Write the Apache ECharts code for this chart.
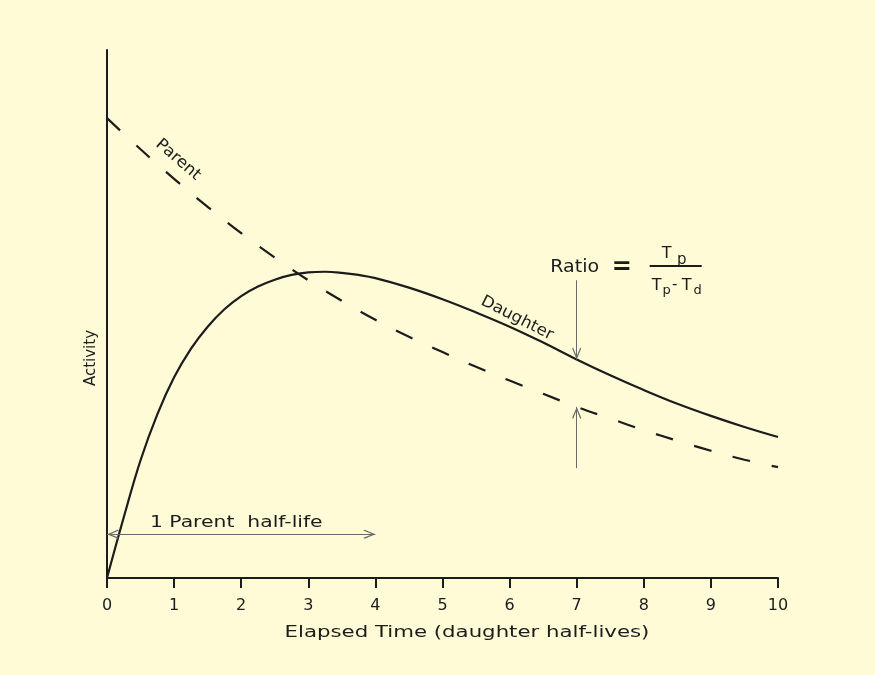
<!DOCTYPE html>
<html>
<head>
<meta charset="utf-8">
<script src="https://cdn.jsdelivr.net/npm/echarts@6/dist/echarts.min.js"></script>
<style>
  html, body { margin: 0; padding: 0; background: #FEFBD6; }
  #chart { width: 875px; height: 675px; }
</style>
</head>
<body>
<div id="chart"></div>
<script>
// ---- data (x in daughter half-lives, y = relative activity 0..100) ----
var xTicks = [0, 1, 2, 3, 4, 5, 6, 7, 8, 9, 10];
var daughterX = [0, 0.25, 0.5, 0.75, 1, 1.25, 1.5, 1.75, 2, 2.25, 2.5, 2.75, 3, 3.25, 3.5, 3.75, 4, 4.5, 5, 5.5, 6, 6.5, 7, 7.5, 8, 8.5, 9, 9.5, 10];
var daughterY = [0, 11.5, 22.3, 31.0, 38.0, 43.4, 47.6, 50.9, 53.4, 55.2, 56.5, 57.4, 57.9, 58.0, 57.8, 57.4, 56.8, 55.0, 52.8, 50.3, 47.6, 44.6, 41.4, 38.4, 35.6, 33.0, 30.7, 28.6, 26.7];
var parentX = [0, 0.5, 1, 1.5, 2, 2.5, 3, 3.5, 4, 4.5, 5, 5.5, 6, 6.5, 7, 7.5, 8, 8.5, 9, 9.5, 10];
var parentY = [87.1, 81.2, 75.6, 70.3, 65.3, 60.7, 56.4, 52.5, 48.9, 45.7, 42.8, 40.0, 37.4, 34.9, 32.4, 30.2, 28.0, 26.0, 24.1, 22.4, 21.0];
// annotation arrows (data coordinates)
var halfLifeArrow = [[0, 8.3], [4, 8.3]];
var ratioArrowTop = [[7, 56.4], [7, 41.4]];
var ratioArrowBottom = [[7, 20.8], [7, 32.4]];
// annotation anchors (data coordinates)
var parentLabelAt = [1.06, 79.2];
var daughterLabelAt = [6.11, 49.2];
var halfLifeLabelAt = [0.64, 10.4];
var ratioLabelAt = [7, 58.7];

function zip(xs, ys) { return xs.map(function (x, i) { return [x, ys[i]]; }); }

var FONT = 'DejaVu Sans';
var INK = '#1c1c1c';
var chevron = 'path://M5,0 L10,9 L9,10 L5,2.6 L1,10 L0,9 Z';

var chart = echarts.init(document.getElementById('chart'), null, { renderer: 'canvas' });

function arrowLine(pair) {
  return [{ coord: pair[0] }, { coord: pair[1] }];
}

var option = {
  backgroundColor: '#FEFBD6',
  animation: false,
  grid: { left: 107, right: 97, top: 50, bottom: 97 },
  xAxis: {
    type: 'value', min: 0, max: 10, interval: 1,
    axisLine: { show: true, onZero: false, lineStyle: { color: INK, width: 2 } },
    axisTick: { show: true, length: 10, lineStyle: { color: INK, width: 2 } },
    axisLabel: { color: INK, fontFamily: FONT, fontSize: 16, margin: 20,
      formatter: function (v) { return xTicks.indexOf(v) >= 0 ? String(v) : ''; } },
    splitLine: { show: false }
  },
  yAxis: {
    type: 'value', min: 0, max: 100,
    axisLine: { show: true, lineStyle: { color: INK, width: 2 } },
    axisTick: { show: false },
    axisLabel: { show: false },
    splitLine: { show: false }
  },
  series: [
    {
      name: 'Daughter', type: 'line', data: zip(daughterX, daughterY),
      smooth: 0.4, showSymbol: false, silent: true,
      lineStyle: { color: INK, width: 2.2 },
      markLine: {
        silent: true, symbol: [chevron, chevron], symbolSize: [9, 12],
        symbolOffset: [[0, 6], [0, 6]],
        label: { show: false },
        lineStyle: { color: '#6a6a6a', width: 1, type: 'solid' },
        data: [arrowLine(halfLifeArrow)]
      }
    },
    {
      name: 'Parent', type: 'line', data: zip(parentX, parentY),
      smooth: 0.4, showSymbol: false, silent: true,
      lineStyle: { color: INK, width: 2.2, type: [18, 22] },
      markLine: {
        silent: true, symbol: ['none', chevron], symbolSize: [9, 12],
        symbolOffset: [[0, 0], [0, 6]],
        label: { show: false },
        lineStyle: { color: '#6a6a6a', width: 1, type: 'solid' },
        data: [arrowLine(ratioArrowTop), arrowLine(ratioArrowBottom)]
      }
    }
  ]
};
chart.setOption(option);

function px(p) { return chart.convertToPixel({ gridIndex: 0 }, p); }
function txt(x, y, s, size, extra, weight) {
  var st = { text: s, x: 0, y: 0, fill: INK, fontFamily: FONT, fontSize: size,
    fontWeight: weight || 'normal', align: 'center', verticalAlign: 'middle' };
  var el = { type: 'text', x: x, y: y, style: st, silent: true };
  if (extra) { for (var k in extra) { el[k] = extra[k]; } }
  return el;
}

var pP = px(parentLabelAt), pD = px(daughterLabelAt), pH = px(halfLifeLabelAt), pR = px(ratioLabelAt);
var hl = txt(pH[0], pH[1], '1 Parent  half-life', 16, { scaleX: 1.27 });
hl.style.align = 'left';

var graphics = [
  txt(pP[0], pP[1], 'Parent', 16, { rotation: -41 * Math.PI / 180, scaleX: 1.05 }),
  txt(pD[0], pD[1], 'Daughter', 16, { rotation: -27 * Math.PI / 180, scaleX: 1.05 }),
  hl,
  txt(467, 633, 'Elapsed Time (daughter half-lives)', 16, { scaleX: 1.33 }),
  txt(91, 358, 'Activity', 15, { rotation: Math.PI / 2 }),
  {
    type: 'group', x: pR[0], y: pR[1], silent: true,
    children: [
      txt(-2, 0, 'Ratio', 17, { scaleX: 1.12 }),
      txt(45, 0, '=', 24, null, 'bold'),
      { type: 'line', shape: { x1: 73, y1: -2, x2: 125, y2: -2 }, style: { stroke: INK, lineWidth: 2 } },
      txt(90, -14, 'T', 16),
      txt(105, -8, 'p', 15),
      txt(80, 18, 'T', 16),
      txt(90, 23, 'p', 13),
      txt(98, 17, '-', 15),
      txt(110, 18, 'T', 16),
      txt(121, 23, 'd', 13)
    ]
  }
];
chart.setOption({ graphic: graphics });
</script>
</body>
</html>
